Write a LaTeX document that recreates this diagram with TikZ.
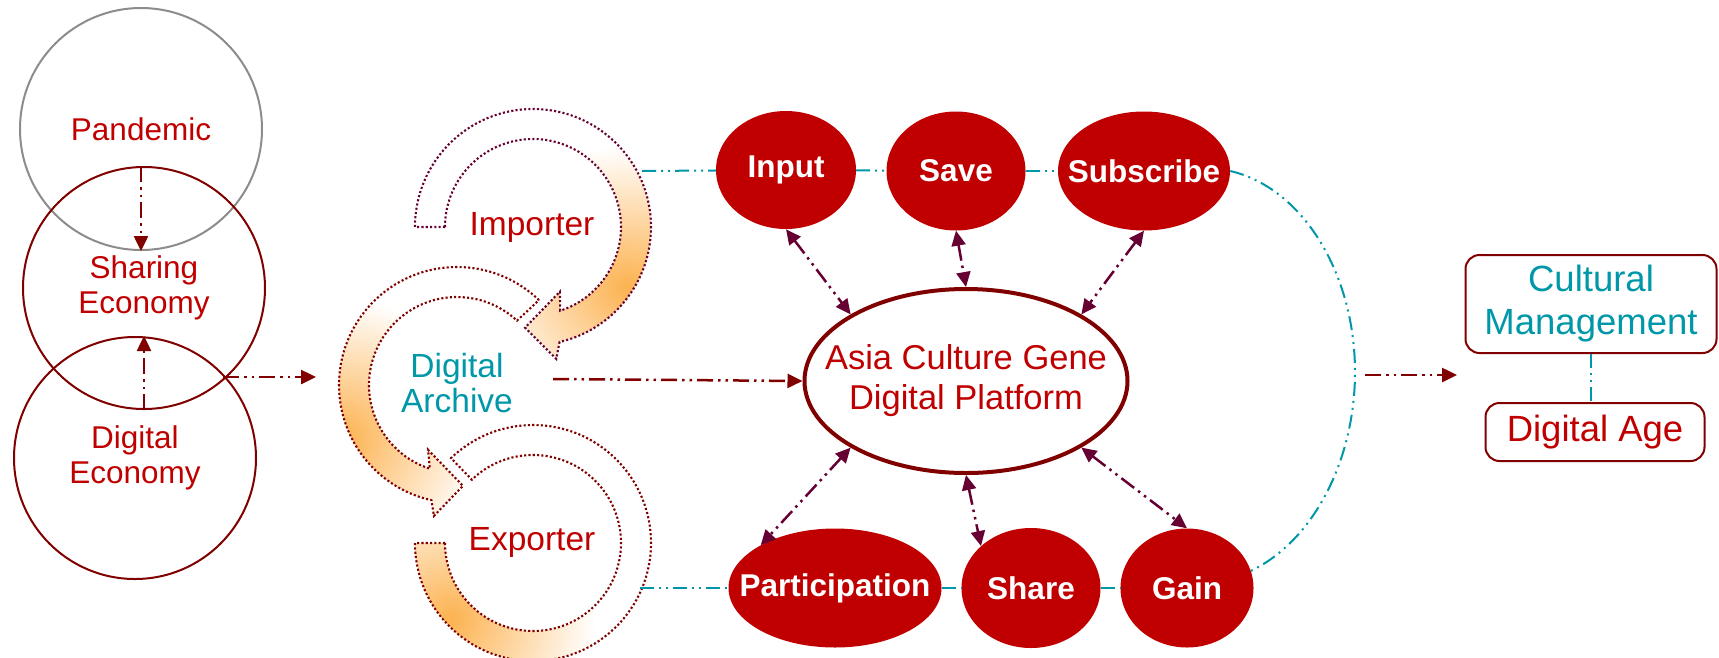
\documentclass[tikz,border=0pt]{standalone}
\usepackage{fontspec}
\setmainfont{Liberation Sans}
\usetikzlibrary{arrows.meta,shapes.geometric}

\definecolor{darkred}{RGB}{128,0,0}
\definecolor{textred}{RGB}{192,0,0}
\definecolor{plum}{RGB}{102,0,51}
\definecolor{tealline}{RGB}{0,152,168}
\definecolor{ringgray}{RGB}{140,140,140}
\definecolor{glow}{RGB}{252,178,80}
\pgfdeclareradialshading{glowing}{\pgfpointorigin}{color(0bp)=(glow); color(18bp)=(white); color(50bp)=(white)}

\begin{document}
\begin{tikzpicture}[x=1pt,y=-1pt,>={Triangle[length=15pt,width=14pt]},
  circ node/.style={circle,draw=darkred,line width=2pt,minimum size=242pt,inner sep=0pt,
    text=textred,align=center,font=\fontsize{31.5}{35}\selectfont},
  red node/.style={ellipse,fill=textred,text=white,inner sep=0pt,
    font=\fontsize{31.5}{35}\selectfont\bfseries},
  label node/.style={align=center,font=\fontsize{33.5}{35}\selectfont},
  box node/.style={rectangle,rounded corners=14pt,draw=darkred,line width=2pt,inner sep=0pt,
    align=center,font=\fontsize{36.5}{43}\selectfont},
  ring/.style={line width=2.1pt,dash pattern=on 2.1pt off 2.2pt,fill=white},
  flow/.style={->,darkred,line width=2.5pt,dash pattern=on 16pt off 5pt on 2.5pt off 5pt on 2.5pt off 5pt},
  link/.style={<->,plum,line width=2.5pt,dash pattern=on 16pt off 5pt on 2.5pt off 5pt on 2.5pt off 5pt},
  tealdash/.style={tealline,line width=2pt,dash pattern=on 14pt off 5pt on 2pt off 5pt on 2pt off 5pt}]

  \useasboundingbox (0,0) rectangle (1719,657);

  % left column
  \node[circ node,draw=ringgray] (Pandemic) at (141,129) {Pandemic};
  \node[circ node] (Sharing) at (144,288) {Sharing\\Economy};
  \node[circ node] (DigitalEcon) at (135,458) {Digital\\Economy};

  \draw[flow] (Pandemic.south |- Sharing.north) -- (Pandemic.south);
  \draw[flow] (Sharing.south) -- (Sharing.south |- DigitalEcon.north);

  \coordinate (CircleOut) at (223,377);
  \coordinate (ArchiveIn) at (316,377);
  \draw[flow] (CircleOut) -- (ArchiveIn);

  % circular arrows
  \draw[ring,draw=darkred,path picture={\shade[shading=glowing] (436,627) circle (185);}]
    ([shift={(533,543)}]180:88) -- ([shift={(533,543)}]180:118)
    arc[start angle=180,end angle=-134,radius=118]
    -- ([shift={(533,543)}]-134:88)
    arc[start angle=-134,end angle=180,radius=88] -- cycle;
  \draw[ring,draw=darkred,path picture={\shade[shading=glowing] (341,439) circle (195);}]
    ([shift={(457,385)}]-46:118)
    arc[start angle=-46,end angle=-257.5,radius=118]
    -- ([shift={(457,385)}]-260:133) -- ([shift={(457,385)}]-273.4:101)
    -- ([shift={(457,385)}]-246:71) -- ([shift={(457,385)}]-252:88)
    arc[start angle=-252,end angle=-47,radius=88] -- cycle;
  \draw[ring,draw=plum,path picture={\shade[shading=glowing] (646,287) circle (195);}]
    ([shift={(533,227)}]180:88) -- ([shift={(533,227)}]180:118)
    arc[start angle=180,end angle=437,radius=118]
    -- ([shift={(533,227)}]440:134) -- ([shift={(533,227)}]454.5:101)
    -- ([shift={(533,227)}]427.4:70) -- ([shift={(533,227)}]432:88)
    arc[start angle=432,end angle=180,radius=88] -- cycle;

  \node[label node,text=textred] (Importer) at (532,227) {Importer};
  \node[label node,text=tealline] (Archive) at (457,383) {Digital\\Archive};
  \node[label node,text=textred] (Exporter) at (532,542) {Exporter};

  % platform and its steps
  \node[ellipse,draw=darkred,line width=4pt,minimum width=323pt,minimum height=184pt,inner sep=0pt,
    text=textred,font=\fontsize{34.5}{40}\selectfont] (Platform) at (966,381)
    {\makebox[0pt]{\begin{tabular}{@{}c@{}}Asia Culture Gene\\Digital Platform\end{tabular}}};

  \node[red node,minimum width=140pt,minimum height=118pt] (Input) at (786,170) {\makebox[0pt]{Input}};
  \node[red node,minimum width=139pt,minimum height=119pt] (Save) at (956,171) {\makebox[0pt]{Save}};
  \node[red node,minimum width=172pt,minimum height=119pt] (Subscribe) at (1144,171) {\makebox[0pt]{Subscribe}};
  \node[red node,minimum width=213pt,minimum height=119pt] (Participation) at (835,588) {\makebox[0pt]{Participation}};
  \node[red node,minimum width=139pt,minimum height=120pt] (Share) at (1031,588) {\makebox[0pt]{Share}};
  \node[red node,minimum width=133pt,minimum height=119pt] (Gain) at (1187,588) {\makebox[0pt]{Gain}};

  \coordinate (ArchiveOut) at (553,379);
  \draw[flow] (ArchiveOut) -- (Platform.west);

  \path[link] (Input.south) edge (Platform.150)
    (Save.south) edge (Platform.north)
    (Subscribe.south) edge (Platform.30)
    (Platform.210) edge (Participation.150)
    (Platform.south) edge (Share.140)
    (Platform.-30) edge (Gain.north);

  \coordinate (ImporterOut) at (642,171);
  \coordinate (ExporterOut) at (640,588);
  \path[tealdash] (ImporterOut) edge (Input)
    (Input) edge (Save)
    (Save) edge (Subscribe)
    (ExporterOut) edge (Participation)
    (Participation) edge (Share)
    (Share) edge (Gain);
  \draw[tealdash] (Subscribe.east) .. controls (1303,188) and (1355,274) .. (1355,372)
    .. controls (1355,458) and (1315,540) .. (Gain.15);

  % right side
  \node[box node,text=tealline,minimum width=251pt,minimum height=98pt] (Cultural) at (1591,304) {Cultural\\Management};
  \node[box node,text=textred,minimum width=219pt,minimum height=58pt] (DigitalAge) at (1595,432) {Digital Age};
  \draw[tealdash] (Cultural.south) -- (Cultural.south |- DigitalAge.north);

  \coordinate (ResultOut) at (1365,375);
  \coordinate (ResultIn) at (1457,375);
  \draw[flow] (ResultOut) -- (ResultIn);

\end{tikzpicture}
\end{document}
